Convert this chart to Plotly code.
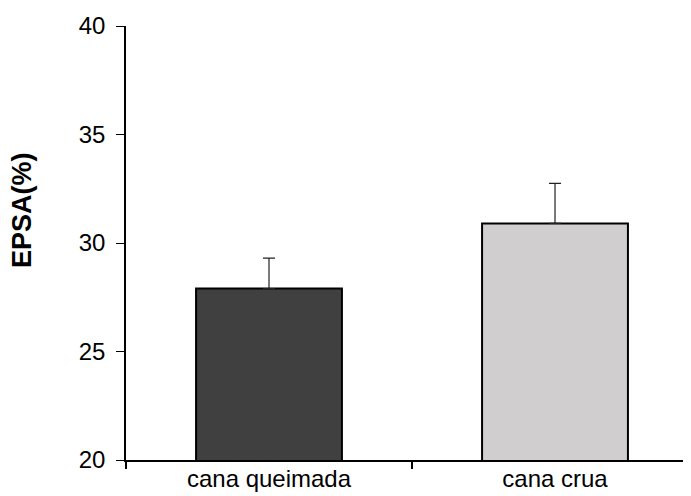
import plotly.graph_objects as go

categories = ["cana queimada", "cana crua"]
means = [27.9, 30.9]
errors_up = [1.4, 1.85]
errors_down = [0, 0]
bar_colors = ["#404040", "#d0cece"]
y_ticks = [20, 25, 30, 35, 40]

FONT = "Liberation Sans, Arial, sans-serif"

fig = go.Figure()
fig.add_trace(go.Bar(
    x=categories, y=means,
    marker=dict(color=bar_colors, line=dict(color="black", width=2)),
    width=0.51,
    error_y=dict(type="data", symmetric=False, array=errors_up, arrayminus=errors_down,
                 color="#222222", thickness=1.2, width=6),
    showlegend=False,
))

fig.update_layout(
    width=683, height=488,
    margin=dict(l=118, r=0, t=18, b=36),
    paper_bgcolor="white", plot_bgcolor="white",
    font=dict(family=FONT, size=24, color="black"),
    xaxis=dict(type="category", range=[-0.5, 1.4755], showline=True, linecolor="black", linewidth=2,
               ticks="outside", tickson="boundaries", ticklen=7, tickwidth=1.5, tickcolor="black",
               showgrid=False, zeroline=False, tickfont=dict(size=24), ticklabelstandoff=-4),
    yaxis=dict(range=[20, 40], tickvals=y_ticks, showline=True, linecolor="black", linewidth=1.5,
               ticks="outside", ticklen=8, tickwidth=1, tickcolor="black",
               showgrid=False, zeroline=False, tickfont=dict(size=24), ticklabelstandoff=6),
    annotations=[dict(text="<b>EPSA(%)</b>", textangle=-90, xref="paper", yref="paper",
                      x=-104 / 565, y=250 / 434, showarrow=False,
                      xanchor="center", yanchor="middle", font=dict(size=27, family=FONT))],
)

fig.write_html("out.html")
